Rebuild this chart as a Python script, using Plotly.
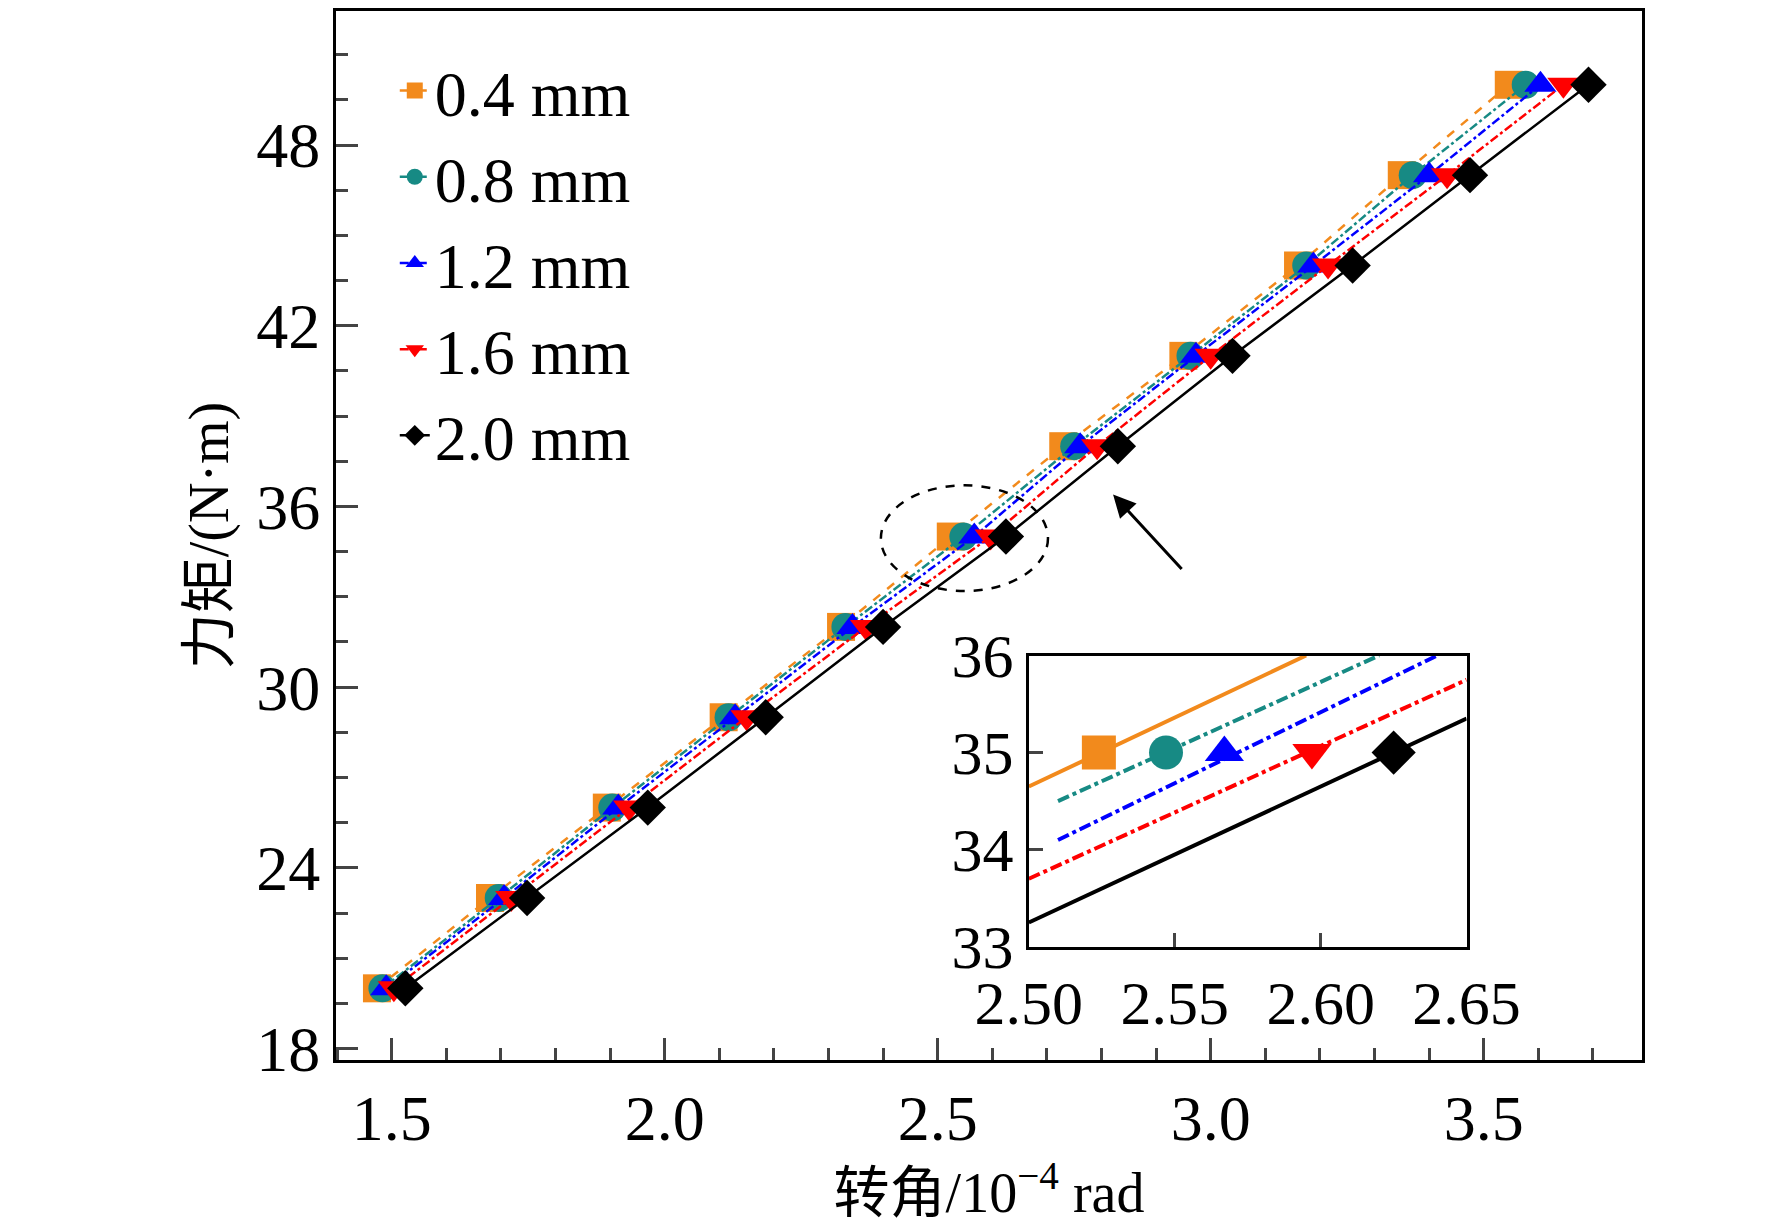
import plotly.graph_objects as go

# torque values (N·m)
torque = [20, 23, 26, 29, 32, 35, 38, 41, 44, 47, 50]

# rotation angle (1e-4 rad) for each gap
x_04 = [1.473, 1.68, 1.894, 2.108, 2.323, 2.524, 2.73, 2.95, 3.16, 3.35, 3.546]
x_08 = [1.483, 1.696, 1.904, 2.117, 2.331, 2.547, 2.75, 2.963, 3.175, 3.37, 3.577]
x_12 = [1.490, 1.706, 1.915, 2.129, 2.344, 2.567, 2.761, 2.973, 3.188, 3.4, 3.604]
x_16 = [1.504, 1.719, 1.935, 2.15, 2.369, 2.597, 2.792, 3.0, 3.215, 3.433, 3.646]
x_20 = [1.525, 1.748, 1.969, 2.185, 2.40, 2.625, 2.83, 3.04, 3.26, 3.475, 3.692]

names = ["0.4 mm", "0.8 mm", "1.2 mm", "1.6 mm", "2.0 mm"]
colors = ["#f28a1c", "#178a84", "#0000ff", "#ff0000", "#000000"]
symbols = ["square", "circle", "triangle-up", "triangle-down", "diamond"]
dashes = ["dash", "dashdot", "dashdot", "dashdot", "solid"]
series = [x_04, x_08, x_12, x_16, x_20]

# inset line segments
inset_x = [[2.5, 2.595], [2.51, 2.62], [2.51, 2.64], [2.5, 2.65], [2.5, 2.65]]
inset_y = [[34.65, 36.0], [34.5, 36.0], [34.1, 36.0], [33.7, 35.75], [33.25, 35.35]]
inset_dash = ["solid", "dashdot", "dashdot", "dashdot", "solid"]
inset_px = [2.524, 2.547, 2.567, 2.597, 2.625]
inset_py = [35, 35, 35, 35, 35]

FONT = "Liberation Serif, Noto Sans CJK SC"

fig = go.Figure()
for xs, nm, c, s, d in zip(series, names, colors, symbols, dashes):
    fig.add_trace(go.Scatter(
        x=xs, y=torque, name=nm, mode="lines+markers",
        line=dict(color=c, width=2.5, dash=d),
        marker=dict(symbol=s, size=28, color=c),
    ))

for i in range(5):
    fig.add_trace(go.Scatter(
        x=inset_x[i], y=inset_y[i], mode="lines", showlegend=False,
        line=dict(color=colors[i], width=4, dash=inset_dash[i]),
        xaxis="x2", yaxis="y2",
    ))
    fig.add_trace(go.Scatter(
        x=[inset_px[i]], y=[inset_py[i]], mode="markers", showlegend=False,
        marker=dict(symbol=symbols[i], size=34, color=colors[i]),
        xaxis="x2", yaxis="y2",
    ))

# dashed ellipse and arrow
fig.add_shape(type="circle", xref="x", yref="y", x0=2.396, x1=2.702, y0=33.19, y1=36.7,
              line=dict(color="black", width=2.5, dash="dash"))
fig.add_annotation(x=0.595, y=0.539, xref="paper", yref="paper", ax=70, ay=76,
                   showarrow=True, arrowhead=2, arrowsize=1.5, arrowwidth=3,
                   arrowcolor="black", text="")

fig.update_layout(
    width=1772, height=1219,
    plot_bgcolor="white", paper_bgcolor="white",
    font=dict(family=FONT, size=64, color="black"),
    margin=dict(l=328, r=138, t=3, b=167, autoexpand=False),
    xaxis=dict(range=[1.398, 3.79], tickvals=[1.5, 2.0, 2.5, 3.0, 3.5], ticktext=["1.5", "2.0", "2.5", "3.0", "3.5"],
               showline=True, mirror=True, linecolor="black", linewidth=3, automargin=False,
               ticks="inside", ticklen=22, tickwidth=3, showgrid=False, zeroline=False,
               minor=dict(ticks="inside", ticklen=12, tickwidth=2.5, dtick=0.1),
               title=dict(text="转角/10<sup>−4</sup> rad", standoff=5, font=dict(size=56))),
    yaxis=dict(range=[17.62, 52.45], tickvals=[18, 24, 30, 36, 42, 48],
               showline=True, mirror=True, linecolor="black", linewidth=3, automargin=False,
               ticks="inside", ticklen=22, tickwidth=3, showgrid=False, zeroline=False,
               minor=dict(ticks="inside", ticklen=12, tickwidth=2.5, dtick=1.5),
               title=dict(text="力矩/(N·m)", standoff=10, font=dict(size=56))),
    xaxis2=dict(domain=[0.5305, 0.8657], anchor="y2", range=[2.5, 2.65],
                tickvals=[2.5, 2.55, 2.6, 2.65], ticktext=["2.50", "2.55", "2.60", "2.65"],
                showline=True, mirror=True, linecolor="black", linewidth=3,
                ticks="inside", ticklen=14, tickwidth=3, showgrid=False, zeroline=False,
                tickfont=dict(size=62)),
    yaxis2=dict(domain=[0.108, 0.3856], anchor="x2", range=[33, 36], dtick=1,
                showline=True, mirror=True, linecolor="black", linewidth=3,
                ticks="inside", ticklen=14, tickwidth=3, showgrid=False, zeroline=False,
                tickfont=dict(size=62)),
    legend=dict(x=0.045, y=0.97, xanchor="left", yanchor="top", bgcolor="rgba(0,0,0,0)",
                font=dict(size=64), tracegroupgap=0),
)

fig.write_html("out.html")
